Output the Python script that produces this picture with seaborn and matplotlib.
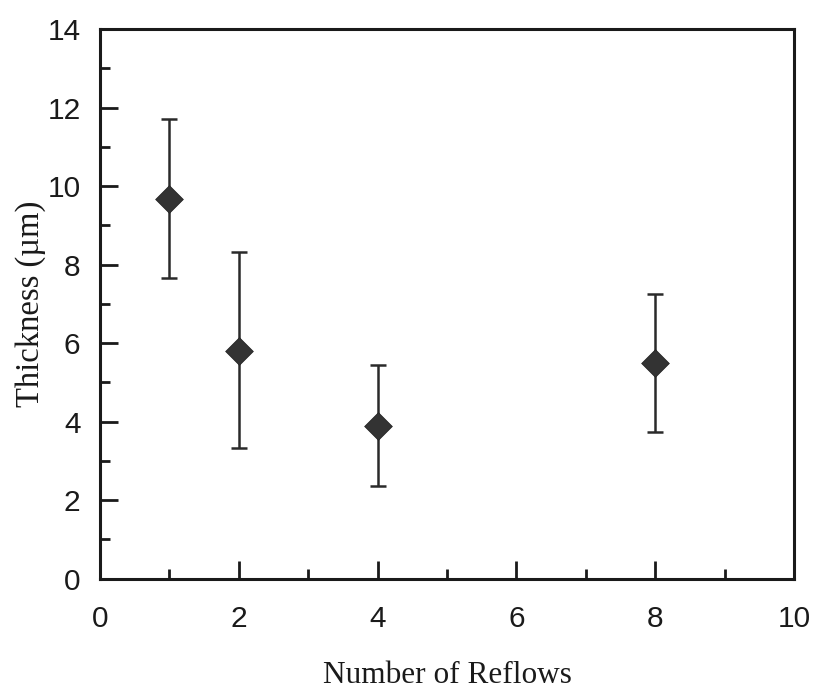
import matplotlib
matplotlib.use("Agg")
import matplotlib.pyplot as plt
import seaborn as sns
import pandas as pd
import numpy as np
from matplotlib.ticker import MultipleLocator

reflows = [1, 2, 4, 8]
thickness = [9.66, 5.81, 3.88, 5.50]
err_low = [2.01, 2.47, 1.53, 1.77]
err_high = [2.04, 2.50, 1.55, 1.74]

sns.set_theme(style="white")
plt.rcParams['font.family'] = ['Liberation Sans', 'DejaVu Sans']

df = pd.DataFrame({"Reflows": reflows, "Thickness": thickness})

fig = plt.figure(figsize=(8.17, 6.93), dpi=100)
ax = fig.add_axes([0.1224, 0.1649, 0.8494, 0.7933])

ax.errorbar(reflows, thickness, yerr=[err_low, err_high], fmt='none',
            ecolor='#2a2a2a', elinewidth=1.8, capsize=6, capthick=1.8, zorder=2)
sns.scatterplot(data=df, x="Reflows", y="Thickness", marker='D', s=200,
                color='#333333', edgecolor='#222222', linewidth=0.5, ax=ax, zorder=3)

ax.set_xlim(0, 10)
ax.set_ylim(0, 14)
ax.xaxis.set_major_locator(MultipleLocator(2))
ax.xaxis.set_minor_locator(MultipleLocator(1))
ax.yaxis.set_major_locator(MultipleLocator(2))
ax.yaxis.set_minor_locator(MultipleLocator(1))

ax.tick_params(axis='both', which='major', direction='in', length=13, width=2,
               color='#1a1a1a', labelsize=21.5, labelcolor='#1a1a1a')
ax.tick_params(axis='both', which='minor', direction='in', length=7, width=2,
               color='#1a1a1a')
ax.tick_params(top=False, right=False, which='both')
ax.tick_params(axis='y', which='major', pad=14)
ax.tick_params(axis='x', which='major', pad=19)
ax.xaxis.set_ticks_position('bottom')
ax.yaxis.set_ticks_position('left')

for sp in ax.spines.values():
    sp.set_visible(True)
    sp.set_linewidth(2.2)
    sp.set_color('#1a1a1a')

serif = ['Liberation Serif', 'DejaVu Serif']
ax.set_xlabel("Number of Reflows", family=serif, fontsize=22.5, color='#1a1a1a', labelpad=20)
ax.set_ylabel("Thickness (µm)", family=serif, fontsize=23.5, color='#1a1a1a', labelpad=1)

fig.savefig("out.png", dpi=100, facecolor='white')
